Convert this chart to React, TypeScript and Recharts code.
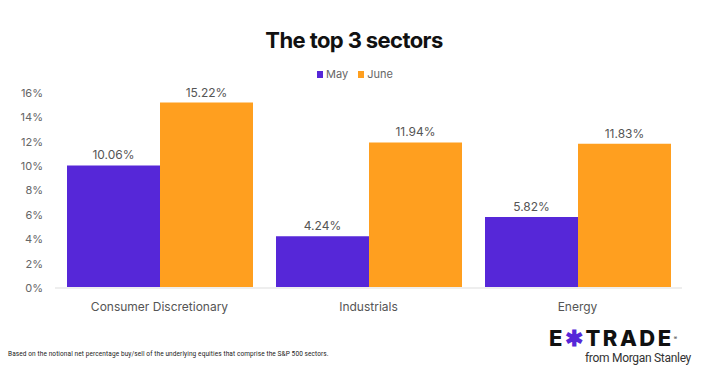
import React from "react";
import { BarChart, Bar, XAxis, YAxis, LabelList } from "recharts";

const sectors = ["Consumer Discretionary", "Industrials", "Energy"];
const mayValues = [10.06, 4.24, 5.82];
const juneValues = [15.22, 11.94, 11.83];
const yTicks = [0, 2, 4, 6, 8, 10, 12, 14, 16];

const data = sectors.map((name, i) => ({ name, May: mayValues[i], June: juneValues[i] }));

const FONT = "Inter, 'Noto Sans', sans-serif";
const MAY_COLOR = "#5627D8";
const JUNE_COLOR = "#FF9F1F";

const legendItems = [
  { label: "May", color: MAY_COLOR },
  { label: "June", color: JUNE_COLOR },
];

const App: React.FC = () => {
  return (
    <div
      style={{
        position: "absolute",
        left: 0,
        top: 0,
        width: 708,
        height: 373,
        background: "#fff",
        fontFamily: FONT,
        overflow: "hidden",
      }}
    >
      <div
        style={{
          position: "absolute",
          top: 27,
          width: 708,
          textAlign: "center",
          fontSize: 22,
          fontWeight: 700,
          color: "#111",
          letterSpacing: -0.6,
        }}
      >
        The top 3 sectors
      </div>
      <div
        style={{
          position: "absolute",
          top: 67,
          left: 317,
          display: "flex",
          alignItems: "center",
          fontSize: 11,
          color: "#666",
        }}
      >
        {legendItems.map((it) => (
          <span key={it.label} style={{ display: "flex", alignItems: "center", marginRight: 10 }}>
            <span style={{ width: 6, height: 7, background: it.color, marginRight: 3, display: "inline-block" }} />
            {it.label}
          </span>
        ))}
      </div>
      <BarChart
        width={708}
        height={373}
        data={data}
        margin={{ top: 93, right: 26, left: 0, bottom: 55 }}
        barGap={0}
        barCategoryGap={12}
        style={{ position: "absolute", top: 0, left: 0 }}
      >
        <XAxis
          dataKey="name"
          axisLine={{ stroke: "#eee", strokeWidth: 2 }}
          tickLine={false}
          tick={{ fill: "#555", fontSize: 12, fontFamily: FONT }}
          tickMargin={8}
          interval={0}
          height={30}
        />
        <YAxis
          width={55}
          domain={[0, 16]}
          ticks={yTicks}
          interval={0}
          axisLine={false}
          tickLine={false}
          tickMargin={6}
          tickFormatter={(v: number) => `${v}%`}
          tick={{ fill: "#666", fontSize: 11, fontFamily: FONT }}
        />
        <Bar dataKey="May" fill={MAY_COLOR} isAnimationActive={false}>
          <LabelList
            dataKey="May"
            position="top"
            offset={6}
            formatter={(v: number) => `${v.toFixed(2)}%`}
            style={{ fill: "#555", fontSize: 12, fontFamily: FONT }}
          />
        </Bar>
        <Bar dataKey="June" fill={JUNE_COLOR} isAnimationActive={false}>
          <LabelList
            dataKey="June"
            position="top"
            offset={6}
            formatter={(v: number) => `${v.toFixed(2)}%`}
            style={{ fill: "#555", fontSize: 12, fontFamily: FONT }}
          />
        </Bar>
      </BarChart>
      <div
        style={{
          position: "absolute",
          left: 8,
          top: 350,
          fontSize: 6.5,
          color: "#222",
          fontFamily: "Roboto, sans-serif",
          letterSpacing: 0.1,
        }}
      >
        Based on the notional net percentage buy/sell of the underlying equities that comprise the S&amp;P 500 sectors.
      </div>
      <div
        style={{
          position: "absolute",
          left: 549,
          top: 326,
          fontSize: 22,
          fontWeight: 800,
          color: "#111",
          letterSpacing: 2.5,
          fontFamily: "Inter, sans-serif",
          lineHeight: "24px",
          whiteSpace: "nowrap",
        }}
      >
        E<span style={{ color: MAY_COLOR }}>✱</span>TRADE
        <sup style={{ fontSize: 5, fontWeight: 400, verticalAlign: "top", letterSpacing: 0 }}>®</sup>
      </div>
      <div
        style={{
          position: "absolute",
          left: 585,
          top: 351,
          fontSize: 12,
          color: "#333",
          fontFamily: "Roboto, sans-serif",
          letterSpacing: -0.3,
        }}
      >
        from Morgan Stanley
      </div>
    </div>
  );
};

export default App;
